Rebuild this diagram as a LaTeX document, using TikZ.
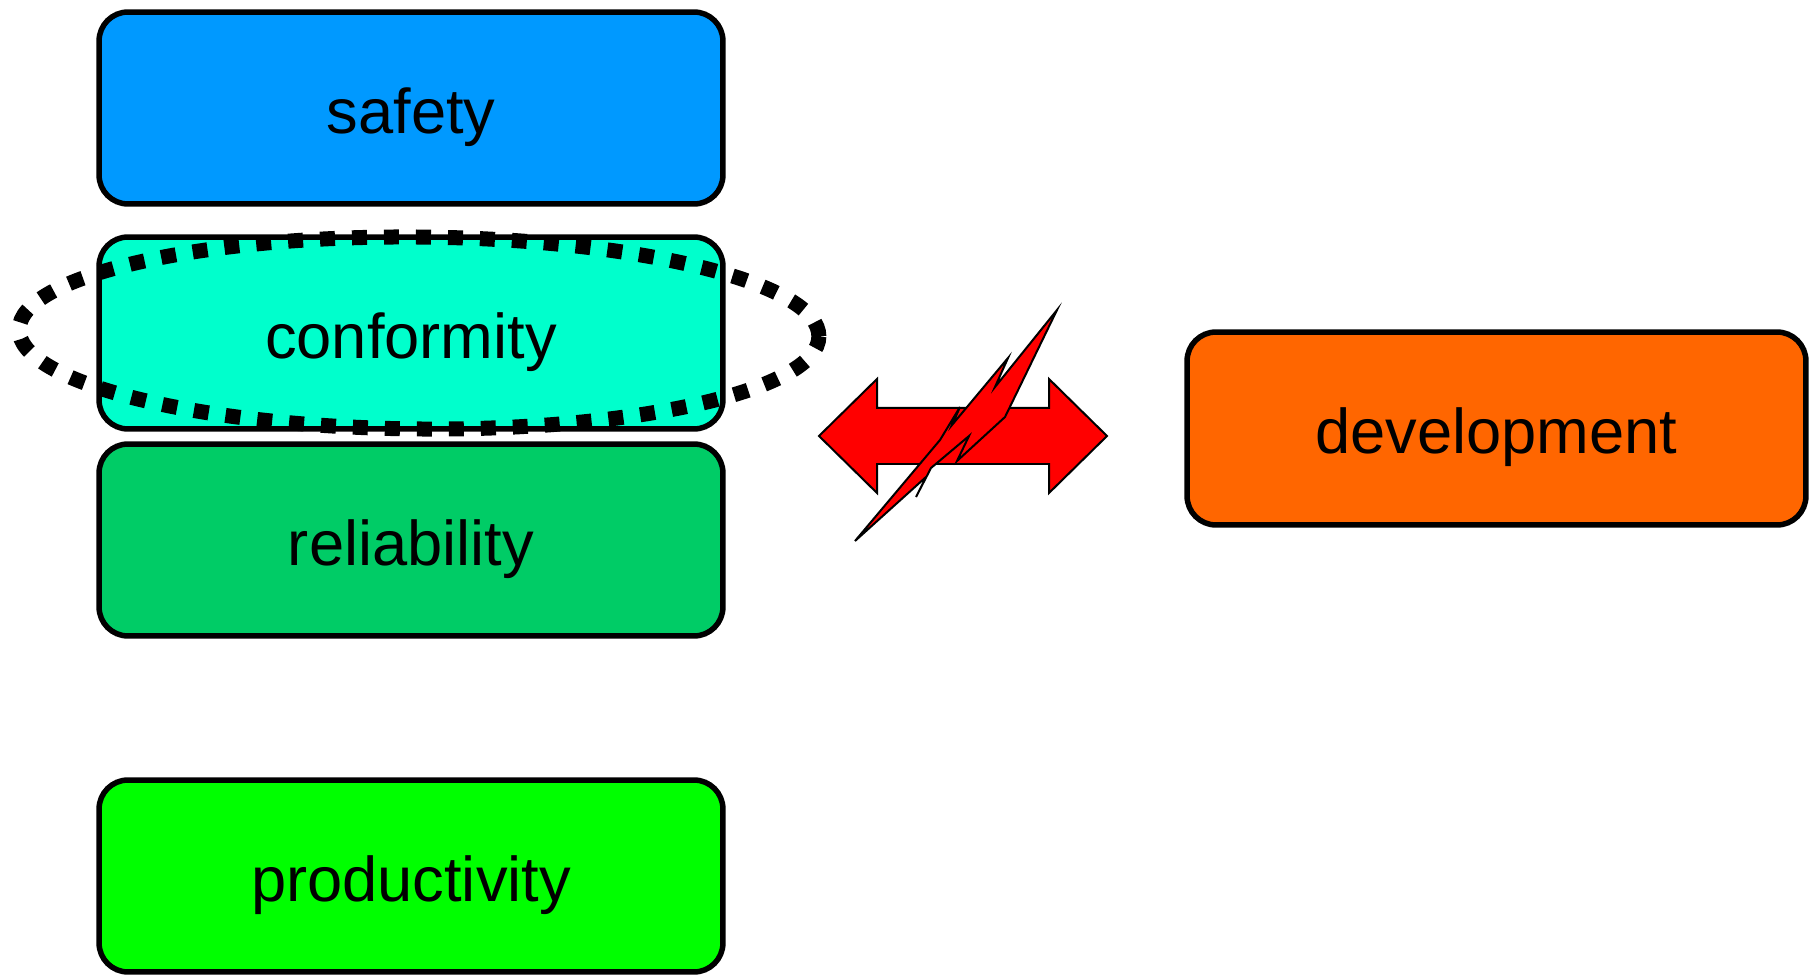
\documentclass[tikz,border=0pt]{standalone}
\usepackage{fontspec}
\setmainfont{Liberation Sans}
\usetikzlibrary{shapes.geometric}
\definecolor{safetyblue}{RGB}{0,153,255}
\definecolor{conformcyan}{RGB}{0,255,204}
\definecolor{reliablegreen}{RGB}{0,204,102}
\definecolor{prodgreen}{RGB}{0,255,0}
\definecolor{devorange}{RGB}{255,102,0}
\definecolor{clashred}{RGB}{255,0,0}
\begin{document}
\begin{tikzpicture}[x=0.02cm,y=-0.02cm,
  block/.style={draw=black, line width=0.11cm, rounded corners=0.58cm,
    minimum width=12.48cm, minimum height=3.84cm, inner sep=0pt,
    font=\fontsize{36}{43}\selectfont, text height=1.3cm, text depth=0.28cm},
  focusring/.style={ellipse, draw=black, line width=0.3cm,
    dash pattern=on 0.3cm off 0.34cm, minimum width=16cm,
    minimum height=3.84cm, inner sep=0pt},
  redshape/.style={fill=clashred, draw=black, line width=0.04cm, line join=miter}]
\useasboundingbox (0,0) rectangle (1809,976);

% quality stack on the left
\node[block, fill=safetyblue]    (safety)       at (411,108) {safety};
\node[block, fill=conformcyan]   (conformity)   at (411,333) {conformity};
\node[block, fill=reliablegreen] (reliability)  at (411,540) {reliability};
\node[block, fill=prodgreen]     (productivity) at (411,876) {productivity};

% development on the right
\node[block, fill=devorange, minimum width=12.38cm, minimum height=3.86cm]
  (development) at (1496.5,428.5) {development};

% dotted ring around conformity
\node[focusring, rotate=-0.5] (focus) at (419,333) {};

% double arrow between the two sides
\draw[redshape] (819,436) -- (877,379) -- (877,408) -- (1049,408) -- (1049,379)
  -- (1107,436) -- (1049,493) -- (1049,464) -- (877,464) -- (877,493) -- cycle;

% lightning bolt across the arrow
\draw[redshape] (1057,310) -- (1005,417) -- (957,461) -- (969,436) -- (931,468)
  -- (916,497) -- (926,477) -- (855,541) -- (940,440) -- (960,407)
  -- (952,425) -- (1008,358) -- (995,387) -- cycle;
\end{tikzpicture}
\end{document}
